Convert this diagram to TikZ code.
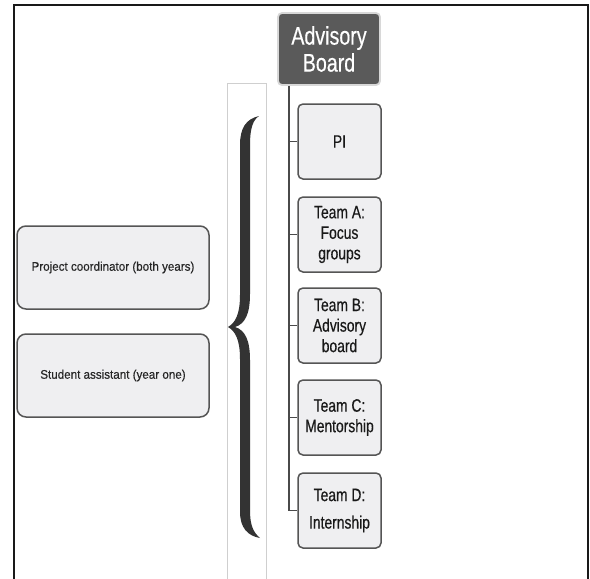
\documentclass[tikz,border=0pt]{standalone}
\usepackage{fontspec}
\setmainfont{Liberation Sans}
\newfontfamily\condfont[FakeStretch=0.77,FakeBold=0.4]{Liberation Sans}
\newfontfamily\leftfont[FakeStretch=0.93,FakeBold=0.3]{Liberation Sans}
\definecolor{boxfill}{HTML}{EFEFF1}
\definecolor{boxline}{HTML}{555555}
\definecolor{darkfill}{HTML}{5A5A5A}
\definecolor{halo}{HTML}{D8D8D8}
\definecolor{conncol}{HTML}{4A4A4A}
\definecolor{bracecol}{HTML}{333333}
\definecolor{panel}{HTML}{CFCFCF}
\tikzset{
  teambox/.style={draw=boxline, fill=boxfill, line width=1.5pt, rounded corners=5pt,
    minimum width=83pt, minimum height=75pt, inner sep=1pt, align=center,
    font=\condfont\fontsize{18}{20.5}\selectfont, text=black!90},
  sidebox/.style={draw=boxline, fill=boxfill, line width=1.5pt, rounded corners=9pt,
    minimum width=192pt, minimum height=83pt, inner sep=1pt, align=center,
    font=\leftfont\fontsize{12.5}{15}\selectfont, text=black!85},
  topbox/.style={draw=halo, fill=darkfill, line width=1.8pt, rounded corners=4pt,
    minimum width=102pt, minimum height=72pt, inner sep=1pt, align=center,
    font=\condfont\fontsize{25.5}{27}\selectfont, text=white},
  conn/.style={draw=conncol, line width=1.5pt}
}
\begin{document}
\begin{tikzpicture}[x=1pt,y=-1pt]
\useasboundingbox (0,0) rectangle (590,579);
% outer frame
\draw[line width=2pt, black!90] (14,579) -- (14,5) -- (588,5) -- (588,579);
% thin panel
\draw[panel, line width=0.8pt] (227,579) -- (227,83) -- (266,83) -- (266,579);
% brace
\fill[bracecol] (259,116) .. controls (246,119) and (240,128) .. (240,145)
  -- (240,295) .. controls (240,315) and (235,323) .. (228,327)
  .. controls (235,331) and (240,339) .. (240,359)
  -- (240,512) .. controls (240,528) and (248,536) .. (260,538)
  .. controls (253,532) and (250,525) .. (250,510)
  -- (250,360) .. controls (250,340) and (245,330) .. (235,327)
  .. controls (245,324) and (250,314) .. (250,294)
  -- (250,145) .. controls (250,128) and (253,120) .. (259,116) -- cycle;
% top node
\node[topbox] (AB) at (329,49) {Advisory\\Board};
% team nodes
\node[teambox] (PI) at (339.5,141.5) {PI};
\node[teambox] (TA) at (339.5,234.5) {Team A:\\Focus\\groups};
\node[teambox] (TB) at (339.5,325.5) {Team B:\\Advisory\\board};
\node[teambox] (TC) at (339.5,417.5) {Team C:\\Mentorship};
\node[teambox] (TD) at (339.5,510.5) {Team D:\\[7pt]Internship};
% side nodes
\node[sidebox] (PC) at (113,267.5) {Project coordinator (both years)};
\node[sidebox] (SA) at (113,375.5) {Student assistant (year one)};
% connectors
\coordinate (trunk) at (289,0);
\draw[conn] (trunk |- AB.south) -- (trunk |- TD.west);
\foreach \n in {PI,TA,TB,TC,TD} {
  \draw[conn] (trunk |- \n.west) -- (\n.west);
}
\end{tikzpicture}
\end{document}
